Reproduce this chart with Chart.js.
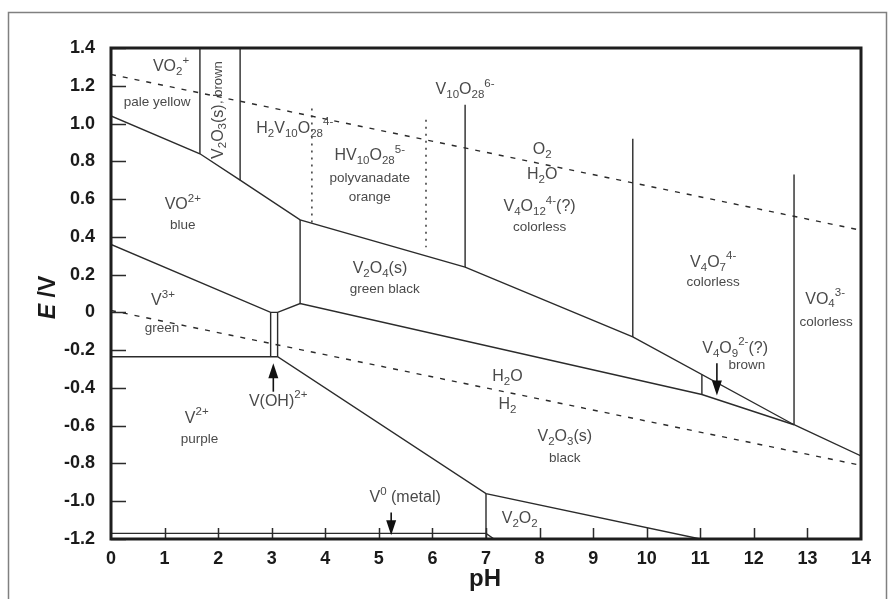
<!DOCTYPE html>
<html>
<head>
<meta charset="utf-8">
<script src="https://cdn.jsdelivr.net/npm/chart.js@4.4.1/dist/chart.umd.min.js"></script>
<style>
  html, body { margin: 0; padding: 0; background: #fff; }
  canvas { display: block; }
</style>
</head>
<body>
<canvas id="chart" width="888" height="599"></canvas>
<script>
// pH / potential ranges and ticks
const phRange = [0, 14];
const eRange = [-1.2, 1.4];
const phStep = 1;
const eStep = 0.2;

// solid boundaries, [pH, E]
const upperBoundary = [[0, 1.04], [1.66, 0.84], [2.41, 0.70], [3.53, 0.49], [6.61, 0.24], [9.74, -0.13], [12.75, -0.595], [14, -0.76]];
const v3Boundary = [[0, 0.36], [2.98, 0.0], [3.11, 0.0], [3.53, 0.047], [11.03, -0.435], [12.75, -0.595]];
const v2Boundary = [[0, -0.235], [3.11, -0.235], [7.0, -0.96], [11.0, -1.2]];
const metalBoundary = [[0, -1.17], [7.0, -1.17], [7.15, -1.2]];
const verticals = [
  [[1.66, 1.4], [1.66, 0.84]],
  [[2.41, 1.4], [2.41, 0.70]],
  [[3.53, 0.49], [3.53, 0.047]],
  [[6.61, 1.10], [6.61, 0.24]],
  [[9.74, 0.92], [9.74, -0.13]],
  [[12.75, 0.73], [12.75, -0.595]],
  [[11.03, -0.329], [11.03, -0.435]],
  [[7.0, -0.96], [7.0, -1.2]],
  [[2.98, 0.0], [2.98, -0.235]],
  [[3.11, 0.0], [3.11, -0.235]]
];
// water stability lines (dashed) and polyvanadate splits (dotted)
const o2Line = [[0, 1.26], [14, 0.435]];
const h2Line = [[0, 0.01], [14, -0.81]];
const dottedSplits = [
  [[3.75, 1.08], [3.75, 0.47]],
  [[5.88, 1.02], [5.88, 0.345]]
];

// arrows: pH, from E, to E (head at "to")
const arrows = [
  [3.03, -0.42, -0.27],
  [11.31, -0.27, -0.44],
  [5.23, -1.06, -1.18]
];

// labels: text (_{} sub, ^{} sup), pH, E, kind (f formula, d description)
const regionLabels = [
  ['VO_{2}^{+}', 1.12, 1.30, 'f'],
  ['pale yellow', 0.86, 1.11, 'd'],
  ['H_{2}V_{10}O_{28}^{4-}', 3.43, 0.975, 'f'],
  ['V_{10}O_{28}^{6-}', 6.61, 1.18, 'f'],
  ['HV_{10}O_{28}^{5-}', 4.83, 0.83, 'f'],
  ['polyvanadate', 4.83, 0.71, 'd'],
  ['orange', 4.83, 0.61, 'd'],
  ['O_{2}', 8.05, 0.86, 'f'],
  ['H_{2}O', 8.05, 0.73, 'f'],
  ['V_{4}O_{12}^{4-}(?)', 8.0, 0.56, 'f'],
  ['colorless', 8.0, 0.45, 'd'],
  ['VO^{2+}', 1.34, 0.57, 'f'],
  ['blue', 1.34, 0.46, 'd'],
  ['V_{2}O_{4}(s)', 5.02, 0.23, 'f'],
  ['green black', 5.11, 0.12, 'd'],
  ['V_{4}O_{7}^{4-}', 11.24, 0.265, 'f'],
  ['colorless', 11.24, 0.16, 'd'],
  ['VO_{4}^{3-}', 13.33, 0.07, 'f'],
  ['colorless', 13.35, -0.05, 'd'],
  ['V_{4}O_{9}^{2-}(?)', 11.65, -0.19, 'f'],
  ['brown', 11.87, -0.28, 'd'],
  ['V^{3+}', 0.97, 0.06, 'f'],
  ['green', 0.95, -0.085, 'd'],
  ['V(OH)^{2+}', 3.12, -0.47, 'f'],
  ['V^{2+}', 1.6, -0.56, 'f'],
  ['purple', 1.65, -0.67, 'd'],
  ['H_{2}O', 7.4, -0.34, 'f'],
  ['H_{2}', 7.4, -0.49, 'f'],
  ['V_{2}O_{3}(s)', 8.47, -0.66, 'f'],
  ['black', 8.47, -0.775, 'd'],
  ['V^{0} (metal)', 5.49, -0.98, 'f'],
  ['V_{2}O_{2}', 7.63, -1.09, 'f']
];
const rotatedLabel = ['V_{2}O_{3}(s)', ', brown', 2.0, 1.07];

const FONT = 'Liberation Sans, Arial, Helvetica, sans-serif';
const LINE = '#2b2b2b';
const TEXT = '#4a4a4a';

const pts = arr => arr.map(p => ({ x: p[0], y: p[1] }));
const line = (arr, extra) => Object.assign({
  data: pts(arr), showLine: true, pointRadius: 0, borderColor: LINE,
  borderWidth: 1.4, fill: false, tension: 0
}, extra || {});

const datasets = [
  line(upperBoundary),
  line(v3Boundary),
  line(v2Boundary),
  line(metalBoundary),
  ...verticals.map(v => line(v)),
  line(o2Line, { borderDash: [5, 7] }),
  line(h2Line, { borderDash: [5, 7] }),
  ...dottedSplits.map(v => line(v, { borderDash: [2, 5] }))
];

function parseRich(str) {
  const out = [];
  let i = 0;
  while (i < str.length) {
    const c = str[i];
    if ((c === '_' || c === '^') && str[i + 1] === '{') {
      const end = str.indexOf('}', i);
      out.push({ t: str.slice(i + 2, end), k: c === '_' ? 'sub' : 'sup' });
      i = end + 1;
    } else {
      const last = out[out.length - 1];
      if (last && last.k === 'n') last.t += c; else out.push({ t: c, k: 'n' });
      i++;
    }
  }
  return out;
}

function drawRich(ctx, str, cx, cy, size, color) {
  const parts = parseRich(str);
  const small = size * 0.72;
  let w = 0;
  parts.forEach(p => {
    ctx.font = (p.k === 'n' ? size : small) + 'px ' + FONT;
    p.w = ctx.measureText(p.t).width;
    w += p.w;
  });
  let x = cx - w / 2;
  ctx.fillStyle = color;
  ctx.textAlign = 'left';
  ctx.textBaseline = 'middle';
  parts.forEach(p => {
    ctx.font = (p.k === 'n' ? size : small) + 'px ' + FONT;
    const dy = p.k === 'sub' ? size * 0.32 : p.k === 'sup' ? -size * 0.38 : 0;
    ctx.fillText(p.t, x, cy + dy);
    x += p.w;
  });
}

const decor = {
  id: 'decor',
  afterDatasetsDraw(chart) {
    const { ctx, chartArea: a, scales } = chart;
    const xs = scales.x, ys = scales.y;
    ctx.save();

    // inner ticks
    ctx.strokeStyle = LINE;
    ctx.lineWidth = 1.5;
    ctx.beginPath();
    for (let v = phRange[0] + phStep; v < phRange[1]; v += phStep) {
      const px = Math.round(xs.getPixelForValue(v)) + 0.5;
      ctx.moveTo(px, a.bottom); ctx.lineTo(px, a.bottom - 11);
    }
    for (let v = eRange[0]; v <= eRange[1] + 1e-9; v += eStep) {
      const py = Math.round(ys.getPixelForValue(v)) + 0.5;
      ctx.moveTo(a.left, py); ctx.lineTo(a.left + 15, py);
    }
    ctx.stroke();

    // plot frame
    ctx.strokeStyle = '#1e1e1e';
    ctx.lineWidth = 3;
    ctx.strokeRect(a.left, a.top, a.right - a.left, a.bottom - a.top);

    // arrows
    ctx.fillStyle = '#111';
    ctx.strokeStyle = '#111';
    ctx.lineWidth = 1.6;
    arrows.forEach(([ph, e0, e1]) => {
      const px = xs.getPixelForValue(ph);
      const y0 = ys.getPixelForValue(e0), y1 = ys.getPixelForValue(e1);
      const dir = y1 > y0 ? 1 : -1;
      ctx.beginPath();
      ctx.moveTo(px, y0); ctx.lineTo(px, y1 - dir * 12);
      ctx.stroke();
      ctx.beginPath();
      ctx.moveTo(px, y1);
      ctx.lineTo(px - 5, y1 - dir * 15);
      ctx.lineTo(px + 5, y1 - dir * 15);
      ctx.closePath();
      ctx.fill();
    });

    // region labels
    regionLabels.forEach(([t, ph, e, k]) => {
      drawRich(ctx, t, xs.getPixelForValue(ph), ys.getPixelForValue(e),
        k === 'f' ? 16 : 13.5, TEXT);
    });

    // rotated V2O3(s), brown
    ctx.save();
    ctx.translate(xs.getPixelForValue(rotatedLabel[2]), ys.getPixelForValue(rotatedLabel[3]));
    ctx.rotate(-Math.PI / 2);
    ctx.font = '13px ' + FONT;
    const bw = ctx.measureText(rotatedLabel[1]).width;
    drawRich(ctx, rotatedLabel[0], -bw / 2, 0, 16, TEXT);
    ctx.font = '16px ' + FONT;
    const fw = ctx.measureText('V2O3(s)').width * 0.93;
    ctx.font = '13px ' + FONT;
    ctx.textAlign = 'left';
    ctx.fillText(rotatedLabel[1], -bw / 2 + fw / 2, 0);
    ctx.restore();

    // axis titles
    ctx.fillStyle = '#1a1a1a';
    ctx.textBaseline = 'middle';
    ctx.save();
    ctx.translate(49, (a.top + a.bottom) / 2 + 4);
    ctx.rotate(-Math.PI / 2);
    ctx.font = 'italic bold 23px ' + FONT;
    const ew = ctx.measureText('E').width;
    ctx.font = 'bold 23px ' + FONT;
    const rw = ctx.measureText(' /V').width;
    ctx.textAlign = 'left';
    ctx.font = 'italic bold 23px ' + FONT;
    ctx.fillText('E', -(ew + rw) / 2, 0);
    ctx.font = 'bold 23px ' + FONT;
    ctx.fillText(' /V', -(ew + rw) / 2 + ew, 0);
    ctx.restore();
    ctx.textAlign = 'center';
    ctx.font = 'bold 24px ' + FONT;
    ctx.fillText('pH', (a.left + a.right) / 2 - 1, 579);

    // outer figure border
    ctx.strokeStyle = '#808080';
    ctx.lineWidth = 1.5;
    ctx.beginPath();
    ctx.moveTo(8.5, 602); ctx.lineTo(8.5, 12.5); ctx.lineTo(886.5, 12.5); ctx.lineTo(886.5, 602);
    ctx.stroke();
    ctx.restore();
  }
};

new Chart(document.getElementById('chart'), {
  type: 'scatter',
  data: { datasets },
  options: {
    responsive: false,
    devicePixelRatio: 1,
    animation: false,
    layout: { padding: { top: 48, right: 27, left: 0, bottom: 0 } },
    plugins: { legend: { display: false }, tooltip: { enabled: false } },
    scales: {
      x: {
        type: 'linear', min: phRange[0], max: phRange[1],
        grid: { display: false }, border: { display: false },
        ticks: { stepSize: phStep, padding: 1, color: '#1a1a1a', font: { family: FONT, size: 18, weight: 'bold' } },
        afterFit: s => { s.height = 60; }
      },
      y: {
        type: 'linear', min: eRange[0], max: eRange[1],
        grid: { display: false }, border: { display: false },
        ticks: {
          stepSize: eStep, padding: 8, color: '#1a1a1a',
          font: { family: FONT, size: 18, weight: 'bold' },
          callback: v => Math.abs(v) < 1e-9 ? '0' : v.toFixed(1)
        },
        afterFit: s => { s.width = 111; }
      }
    }
  },
  plugins: [decor]
});
</script>
</body>
</html>
